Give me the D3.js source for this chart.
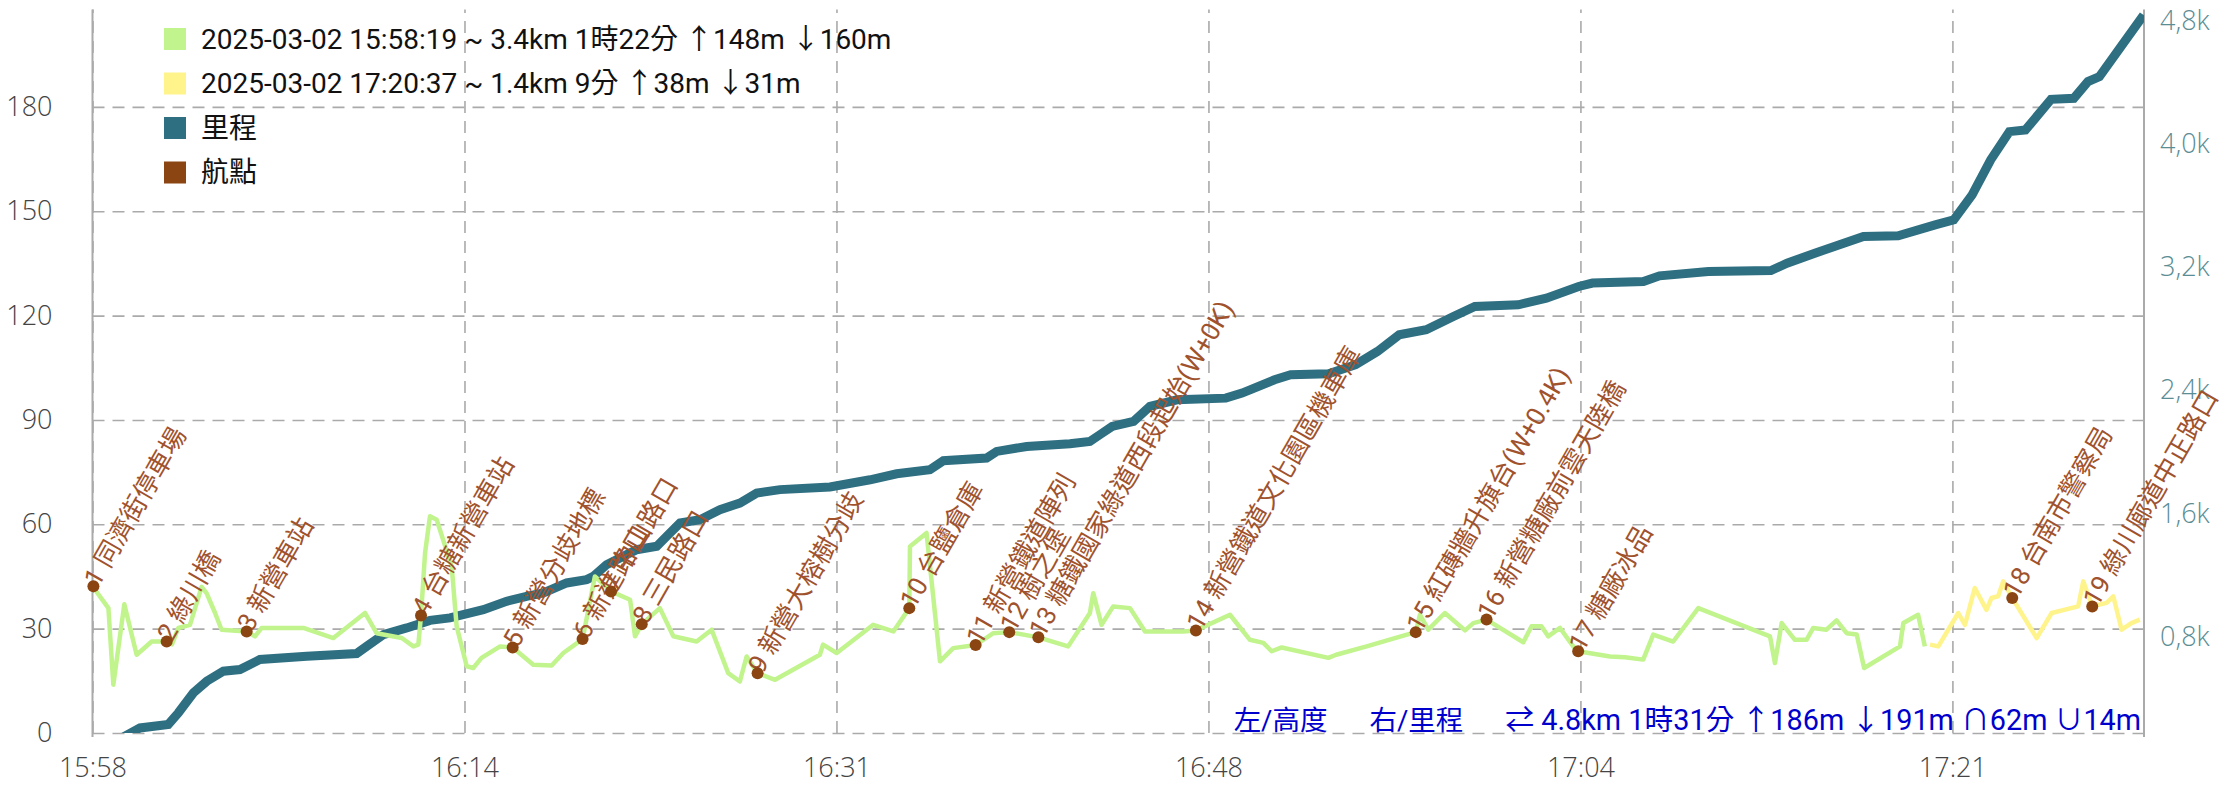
<!DOCTYPE html>
<html>
<head>
<meta charset="utf-8">
<script src="https://cdn.jsdelivr.net/npm/d3@7"></script>
<style>
  body { margin: 0; background: #fff; }
  svg { display: block; font-family: Roboto, "Noto Sans CJK TC", sans-serif; }
  .tick text { font-family: "Open Sans", Roboto, sans-serif; font-weight: 300; }
</style>
</head>
<body>
<script>
var width = 2226, height = 787;
var margin = {top: 9.5, right: 82, bottom: 54, left: 92.5};

// all x values are minutes after the first track point
var startTime = new Date(2025, 2, 2, 15, 58, 19);
var spanMin = 91.55;

// track 1 elevation (green)
var trk1Min = [0, 0.71, 0.93, 1.42, 1.97, 2.64, 3.31, 3.55, 3.83, 4.35,
  4.87, 5.09, 5.47, 5.76, 6.88, 7.25, 7.55, 9.41, 10.75, 12.16,
  12.68, 13.80, 14.32, 14.54, 14.66, 14.84, 15.06, 15.36, 16.03, 16.25,
  16.70, 16.99, 17.36, 18.19, 18.75, 19.67, 20.49, 21.01, 21.87, 22.42,
  23.14, 23.99, 24.21, 24.51, 25.32, 25.92, 26.96, 27.63, 28.37, 28.89,
  29.19, 29.68, 30.46, 32.46, 32.60, 33.21, 34.84, 35.74, 36.45, 36.48,
  37.22, 37.82, 38.41, 39.41, 40.20, 40.91, 42.21, 43.54, 44.51, 44.66,
  45.03, 45.55, 46.30, 46.97, 48.68, 49.24, 50.76, 51.65, 52.25, 52.62,
  53.07, 55.15, 55.50, 56.86, 58.12, 59.05, 59.24, 59.61, 60.35, 61.25,
  61.62, 62.21, 63.85, 64.22, 64.66, 64.96, 65.49, 66.08, 66.30, 67.72,
  68.39, 69.20, 69.65, 70.54, 71.66, 74.86, 75.08, 75.38, 75.97, 76.49,
  76.79, 77.38, 77.83, 78.28, 78.73, 79.06, 80.66, 80.81, 81.47, 81.77];
var trk1Ele = [42.2, 35.9, 13.9, 37, 22.5, 26.3, 26.3, 25.5, 30.2, 31.1,
  42, 40.2, 34.5, 29.7, 29.2, 27.8, 30.2, 30.2, 27.3, 34.5,
  28.7, 27.3, 24.9, 25.4, 33.8, 51.7, 62.3, 61.3, 47.9, 30.7,
  19.2, 18.7, 21.6, 24.9, 24.6, 19.6, 19.4, 23, 27, 45,
  40.7, 38.3, 27.8, 31.3, 35.9, 27.8, 26.3, 29.7, 17.2, 14.8,
  22, 17.2, 15.3, 22.5, 25.4, 23, 31.1, 29.2, 35.9, 53.6,
  57.5, 20.6, 24.4, 25.3, 28.7, 29, 27.5, 24.9, 34.5, 40.2,
  31.1, 36.4, 35.9, 29.2, 29.2, 29.5, 34, 26.8, 25.9, 23.5,
  24.6, 21.6, 22.5, 24.9, 27.3, 29, 34, 29.7, 34.5, 29.5,
  31.6, 32.6, 26.1, 30.7, 30.7, 27.8, 30.2, 24.9, 23.5, 22,
  21.8, 21.1, 28.3, 26.3, 35.9, 27.8, 20.1, 31.6, 26.8, 26.8,
  30.2, 29.7, 32.4, 28.7, 28.3, 18.7, 24.9, 31.6, 34, 24.9];

// track 2 elevation (yellow)
var trk2Min = [82.00, 82.37, 83.26, 83.56, 84.00, 84.52, 84.74, 85.04, 85.27, 85.67,
  86.76, 87.43, 88.61, 88.84, 89.24, 89.88, 90.18, 90.55, 90.99, 91.36];
var trk2Ele = [25.4, 24.9, 34.5, 31.1, 41.7, 35.4, 38.8, 39.3, 43.6, 38.8,
  27.3, 34.5, 36.4, 43.6, 36.4, 37.4, 39.3, 29.7, 31.6, 32.6];

// distance (m)
var distMin = [1.2, 2.12, 3.38, 3.83, 4.50, 5.10, 5.84, 6.58, 7.47, 9.56,
  11.79, 12.24, 12.98, 14.02, 15.06, 15.95, 17.44, 18.48, 19.37, 20.12,
  21.16, 22.05, 22.35, 22.94, 24.28, 25.18, 25.62, 26.22, 27.11, 28.00,
  28.89, 29.64, 30.68, 32.91, 34.70, 35.89, 37.37, 37.97, 39.90, 40.35,
  41.69, 43.62, 44.51, 44.96, 45.50, 46.46, 47.19, 48.40, 50.57, 51.30,
  52.75, 53.47, 55.16, 56.37, 57.34, 58.31, 59.52, 60.73, 61.69, 63.63,
  64.88, 66.32, 66.94, 69.21, 69.93, 72.11, 74.90, 75.62, 76.86, 79.03,
  80.58, 82.23, 83.06, 83.88, 84.71, 85.54, 86.26, 87.40, 88.42, 89.05,
  89.56, 91.53];
var distM = [120, 193, 215, 291, 420, 496, 561, 572, 637, 658,
  676, 723, 799, 842, 891, 907, 961, 1015, 1047, 1069,
  1134, 1156, 1177, 1253, 1350, 1372, 1437, 1523, 1545, 1610,
  1653, 1718, 1740, 1757, 1804, 1843, 1869, 1928, 1945, 1988,
  2020, 2038, 2053, 2097, 2150, 2183, 2280, 2323, 2334, 2367,
  2453, 2486, 2492, 2551, 2637, 2745, 2778, 2864, 2929, 2940,
  2983, 3059, 3081, 3091, 3128, 3156, 3162, 3210, 3275, 3383,
  3388, 3459, 3491, 3654, 3881, 4064, 4075, 4274, 4281, 4389,
  4421, 4821];

// waypoints
var wptMin = [0.04, 3.31, 6.88, 14.66, 18.75, 21.87, 23.14, 24.51, 29.68, 36.45,
  39.41, 40.91, 42.21, 49.24, 59.05, 62.21, 66.30, 85.67, 89.24];
var wptEle = [42.2, 26.3, 29.2, 33.8, 24.6, 27, 40.7, 31.3, 17.2, 35.9,
  25.3, 29, 27.5, 29.5, 29, 32.6, 23.5, 38.8, 36.4];
var wptName = ["同濟街停車場", "綠川橋", "新營車站", "台糖新營車站", "新營分歧地標",
  "新進路口", "中山路口", "三民路口", "新營大榕樹分歧", "台鹽倉庫",
  "新營鐵道陣列", "樹之堡", "糖鐵國家綠道西段起始(W+0K)", "新營鐵道文化園區機車庫",
  "紅磚牆升旗台(W+0.4K)", "新營糖廠前雲天陸橋", "糖廠冰品", "台南市警察局", "綠川廊道中正路口"];

// axes
var xTickMin = [0, 16.6, 33.2, 49.8, 66.4, 83.0];
var xTickLabels = ["15:58", "16:14", "16:31", "16:48", "17:04", "17:21"];
var yLeftTicks = [0, 30, 60, 90, 120, 150, 180];
var yRightTicks = [800, 1600, 2400, 3200, 4000, 4800];
var yRightLabels = ["0,8k", "1,6k", "2,4k", "3,2k", "4,0k", "4,8k"];

// legend
var legendNames = ["2025-03-02 15:58:19 ~ 3.4km 1時22分 ↑148m ↓160m",
  "2025-03-02 17:20:37 ~ 1.4km 9分 ↑38m ↓31m", "里程", "航點"];
var legendColors = ["#c1f48c", "#fff48c", "#2f6f82", "#8b4513"];
var footerTexts = ["左/高度", "右/里程", "⇄ 4.8km 1時31分 ↑186m ↓191m ∩62m ∪14m"];

function toDate(m) { return new Date(startTime.getTime() + m * 60000); }

var plotW = width - margin.left - margin.right;
var plotH = height - margin.top - margin.bottom;

var svg = d3.select("body").append("svg")
    .attr("width", width)
    .attr("height", height);

var x = d3.scaleTime()
    .domain([startTime, toDate(spanMin)])
    .range([margin.left, width - margin.right]);
var yL = d3.scaleLinear().domain([0, 208]).range([height - margin.bottom, margin.top]);
var yR = d3.scaleLinear().domain([160, 4857]).range([height - margin.bottom, margin.top]);

svg.append("clipPath").attr("id", "plot")
  .append("rect")
    .attr("x", margin.left).attr("y", margin.top)
    .attr("width", plotW).attr("height", plotH);

// grid + left axis
var gLeft = svg.append("g")
    .attr("transform", "translate(" + margin.left + ",0)")
    .call(d3.axisLeft(yL).tickValues(yLeftTicks).tickSize(-plotW).tickPadding(40));
gLeft.select(".domain").remove();
gLeft.selectAll("line").attr("stroke", "#aaa").attr("stroke-width", 1.6).attr("stroke-dasharray", "12,8");
gLeft.selectAll("text").attr("font-size", 27).attr("fill", "#444");

var gX = svg.append("g")
    .attr("transform", "translate(0," + (height - margin.bottom) + ")")
    .call(d3.axisBottom(x)
      .tickValues(xTickMin.map(toDate))
      .tickFormat(function(d, i) { return xTickLabels[i]; })
      .tickSize(-plotH).tickPadding(25));
gX.select(".domain").remove();
gX.selectAll("line").attr("stroke", "#aaa").attr("stroke-width", 1.6).attr("stroke-dasharray", "12,8");
gX.selectAll("text").attr("font-size", 27).attr("fill", "#444");

var gRight = svg.append("g")
    .attr("transform", "translate(" + (width - margin.right) + ",0)")
    .call(d3.axisRight(yR).tickValues(yRightTicks)
      .tickFormat(function(d, i) { return yRightLabels[i]; })
      .tickSize(0).tickPadding(16));
gRight.select(".domain").remove();
gRight.selectAll("text").attr("font-size", 27).attr("dy", "0.4em").attr("fill", "#5b8d94");

// solid axis lines
svg.append("g").selectAll("line")
    .data([margin.left, width - margin.right])
  .enter().append("line")
    .attr("x1", function(d) { return d; }).attr("x2", function(d) { return d; })
    .attr("y1", margin.top).attr("y2", height - margin.bottom + 4)
    .attr("stroke", "#aaa").attr("stroke-width", 2);

// distance line
var distData = distMin.map(function(m, i) { return {t: toDate(m), v: distM[i]}; });
svg.append("path")
    .datum(distData)
    .attr("clip-path", "url(#plot)")
    .attr("fill", "none")
    .attr("stroke", "#2f6f82")
    .attr("stroke-width", 9)
    .attr("d", d3.line().x(function(d) { return x(d.t); }).y(function(d) { return yR(d.v); }));

// elevation lines
var eleLine = d3.line().x(function(d) { return x(d.t); }).y(function(d) { return yL(d.v); });
[[trk1Min, trk1Ele, legendColors[0]], [trk2Min, trk2Ele, legendColors[1]]].forEach(function(s) {
  svg.append("path")
      .datum(s[0].map(function(m, i) { return {t: toDate(m), v: s[1][i]}; }))
      .attr("fill", "none")
      .attr("stroke", s[2])
      .attr("stroke-width", 4.5)
      .attr("stroke-linejoin", "round")
      .attr("d", eleLine);
});

// waypoints: labels first, dots on top
var wpts = wptMin.map(function(m, i) {
  return {t: toDate(m), v: wptEle[i], name: (i + 1) + " " + wptName[i]};
});
svg.append("g").selectAll("text")
    .data(wpts)
  .enter().append("text")
    .attr("transform", function(d) {
      return "translate(" + x(d.t) + "," + yL(d.v) + ") rotate(-60)";
    })
    .attr("dx", "0.05em")
    .attr("dy", "0.2em")
    .attr("font-size", 26)
    .attr("fill", "#a0522d")
    .text(function(d) { return d.name; });

svg.append("g").selectAll("circle")
    .data(wpts)
  .enter().append("circle")
    .attr("cx", function(d) { return x(d.t); })
    .attr("cy", function(d) { return yL(d.v); })
    .attr("r", 6)
    .attr("fill", "#8b4513");

// legend
var legend = svg.append("g").selectAll("g")
    .data(legendNames)
  .enter().append("g")
    .attr("transform", function(d, i) { return "translate(164," + (28 + i * 44.5) + ")"; });
legend.append("rect")
    .attr("width", 22).attr("height", 22)
    .attr("fill", function(d, i) { return legendColors[i]; });
legend.append("text")
    .attr("x", 37).attr("y", 11).attr("dy", "0.35em")
    .attr("font-size", 28)
    .attr("fill", "#111")
    .text(function(d) { return d; });

// footer summary, right aligned against the right axis
var foot = svg.append("g").attr("fill", "#0000cd");
var fx = width - margin.right - 3;
for (var i = footerTexts.length - 1; i >= 0; i--) {
  var t = foot.append("text")
      .attr("x", fx).attr("y", height - margin.bottom - 3)
      .attr("text-anchor", "end")
      .attr("font-size", i == footerTexts.length - 1 ? 28.8 : 27.5)
      .text(footerTexts[i]);
  fx -= t.node().getComputedTextLength() + 42;
}
</script>
</body>
</html>
